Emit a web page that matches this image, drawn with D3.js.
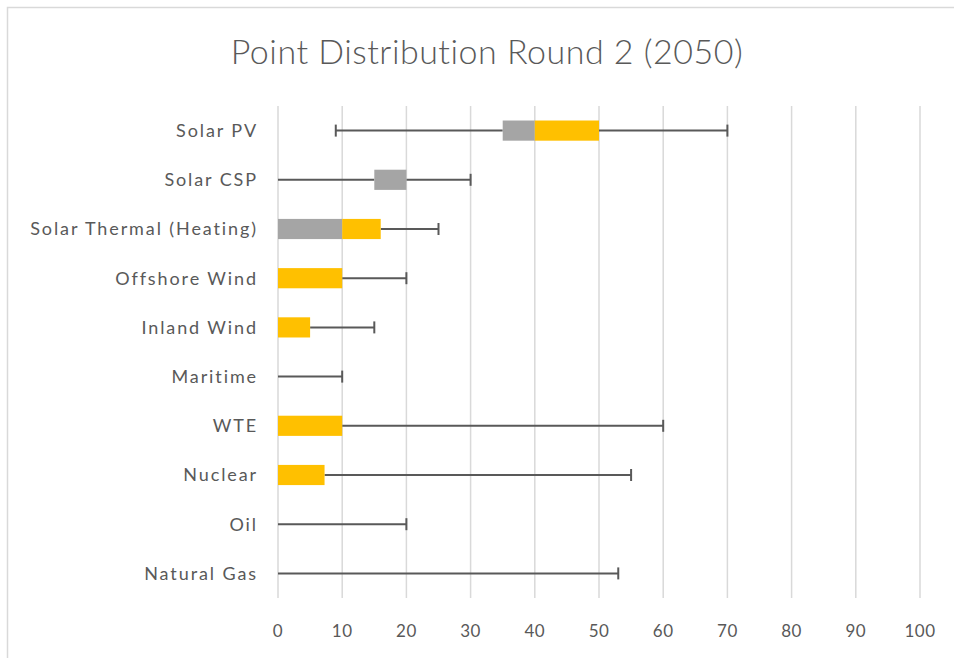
<!DOCTYPE html>
<html lang="en">
<head>
	<meta charset="UTF-8">
	<title>box chart</title>
	<script src="https://d3js.org/d3.v7.min.js"></script>
	<style>
		body { margin: 0; background: #fff; }
		text { font-family: Lato, "Open Sans", sans-serif; fill: #595959; }
	</style>
</head>
<body>
	<script type="text/javascript">
		// data
		var categories = ["Solar PV", "Solar CSP", "Solar Thermal (Heating)", "Offshore Wind", "Inland Wind",
			"Maritime", "WTE", "Nuclear", "Oil", "Natural Gas"];
		var minVals    = [9, 0, 0, 0, 0, 0, 0, 0, 0, 0];
		var q1Vals     = [35, 15, 0, 0, 0, 0, 0, 0, 0, 0];
		var medianVals = [40, 20, 10, 0, 0, 0, 0, 0, 0, 0];
		var q3Vals     = [50, 20, 16, 10, 5, 0, 10, 7.25, 0, 0];
		var maxVals    = [70, 30, 25, 20, 15, 10, 60, 55, 20, 53];
		var xTicks     = [0, 10, 20, 30, 40, 50, 60, 70, 80, 90, 100];

		var w = 954;
		var h = 658;

		var data = categories.map(function(c, i) {
			return {name: c, min: minVals[i], q1: q1Vals[i], med: medianVals[i], q3: q3Vals[i], max: maxVals[i]};
		});

		var xScale = d3.scaleLinear().domain([0, 100]).range([278, 920]);
		var yScale = d3.scaleBand().domain(categories).range([106, 598]).paddingInner(0.59).paddingOuter(0.295);

		var svg = d3.select("body").append("svg").attr("width", w).attr("height", h);

		// border (top + left visible)
		svg.append("path")
			.attr("d", "M7.5,658 L7.5,7.5 L954,7.5")
			.attr("fill", "none")
			.attr("stroke", "#d9d9d9")
			.attr("stroke-width", 1.5);

		// title
		svg.append("text")
			.attr("x", 487)
			.attr("y", 64)
			.attr("text-anchor", "middle")
			.attr("font-size", "34px")
			.attr("font-weight", 300)
			.attr("letter-spacing", "0.5px")
			.text("Point Distribution Round 2 (2050)");

		// gridlines
		svg.selectAll("line.grid")
			.data(xTicks)
			.enter()
			.append("line")
			.attr("class", "grid")
			.attr("x1", function(d) { return xScale(d); })
			.attr("x2", function(d) { return xScale(d); })
			.attr("y1", 106)
			.attr("y2", 598)
			.attr("stroke", "#d9d9d9")
			.attr("stroke-width", 1.5);

		// x tick labels
		svg.selectAll("text.xtick")
			.data(xTicks)
			.enter()
			.append("text")
			.attr("class", "xtick")
			.attr("x", function(d) { return xScale(d); })
			.attr("y", 637)
			.attr("text-anchor", "middle")
			.attr("font-size", "17px")
			.attr("letter-spacing", "0.5px")
			.text(function(d) { return d; });

		// category labels
		svg.selectAll("text.cat")
			.data(data)
			.enter()
			.append("text")
			.attr("class", "cat")
			.attr("x", 258)
			.attr("y", function(d) { return yScale(d.name) + yScale.bandwidth() / 2; })
			.attr("dy", "0.35em")
			.attr("text-anchor", "end")
			.attr("font-size", "18px")
			.attr("letter-spacing", "1.9px")
			.text(function(d) { return d.name; });

		var cy = function(d) { return yScale(d.name) + yScale.bandwidth() / 2; };

		// whiskers
		var wh = svg.append("g").attr("stroke", "#595959").attr("stroke-width", 2);
		wh.selectAll("line.lo")
			.data(data.filter(function(d) { return d.q1 > d.min; }))
			.enter()
			.append("line")
			.attr("x1", function(d) { return xScale(d.min); })
			.attr("x2", function(d) { return xScale(d.q1); })
			.attr("y1", cy).attr("y2", cy);
		wh.selectAll("line.hi")
			.data(data)
			.enter()
			.append("line")
			.attr("x1", function(d) { return xScale(d.q3); })
			.attr("x2", function(d) { return xScale(d.max); })
			.attr("y1", cy).attr("y2", cy);
		wh.selectAll("line.capmin")
			.data(data.filter(function(d) { return d.min > 0; }))
			.enter()
			.append("line")
			.attr("x1", function(d) { return xScale(d.min); })
			.attr("x2", function(d) { return xScale(d.min); })
			.attr("y1", function(d) { return cy(d) - 6; })
			.attr("y2", function(d) { return cy(d) + 6; });
		wh.selectAll("line.capmax")
			.data(data)
			.enter()
			.append("line")
			.attr("x1", function(d) { return xScale(d.max); })
			.attr("x2", function(d) { return xScale(d.max); })
			.attr("y1", function(d) { return cy(d) - 6; })
			.attr("y2", function(d) { return cy(d) + 6; });

		// boxes: grey q1 -> median, yellow median -> q3
		svg.selectAll("rect.low")
			.data(data)
			.enter()
			.append("rect")
			.attr("x", function(d) { return xScale(d.q1); })
			.attr("y", function(d) { return yScale(d.name); })
			.attr("width", function(d) { return xScale(d.med) - xScale(d.q1); })
			.attr("height", yScale.bandwidth())
			.attr("fill", "#a5a5a5");

		svg.selectAll("rect.high")
			.data(data)
			.enter()
			.append("rect")
			.attr("x", function(d) { return xScale(d.med); })
			.attr("y", function(d) { return yScale(d.name); })
			.attr("width", function(d) { return xScale(d.q3) - xScale(d.med); })
			.attr("height", yScale.bandwidth())
			.attr("fill", "#ffc000");
	</script>
</body>
</html>
